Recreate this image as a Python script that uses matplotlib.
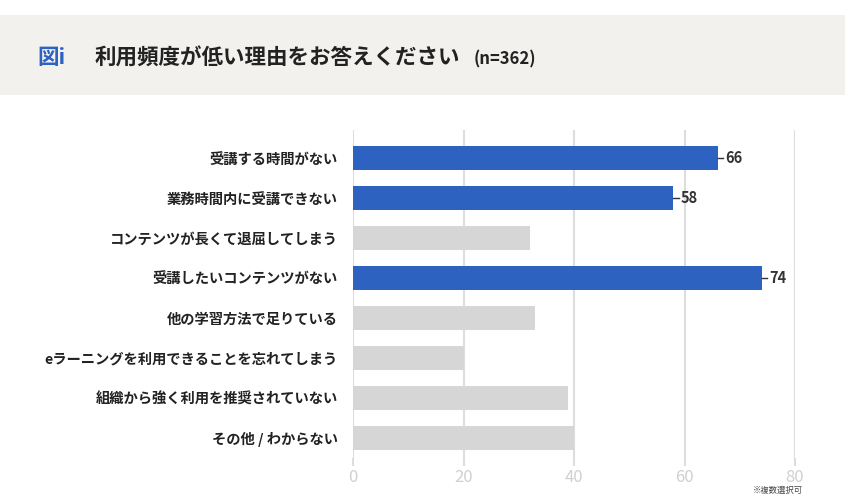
import matplotlib.pyplot as plt
from matplotlib.patches import Rectangle

plt.rcParams['font.family'] = ['Noto Sans CJK JP', 'DejaVu Sans']

labels = ['受講する時間がない', '業務時間内に受講できない', 'コンテンツが長くて退屈してしまう',
          '受講したいコンテンツがない', '他の学習方法で足りている',
          'eラーニングを利用できることを忘れてしまう', '組織から強く利用を推奨されていない',
          'その他 / わからない']
values = [66, 58, 32, 74, 33, 20, 39, 40]
highlight = [True, True, False, True, False, False, False, False]
xticks = [0, 20, 40, 60, 80]

blue = '#2d62c0'
gray = '#d6d6d6'

fig = plt.figure(figsize=(8.57, 4.99), dpi=100)

# header band
fig.patches.append(Rectangle((0, 1 - 95 / 499), 845 / 857, 80 / 499,
                             transform=fig.transFigure, facecolor='#f2f1ee',
                             edgecolor='none', zorder=0))
fig.text(37 / 857, 1 - 58 / 499, '図i', color=blue, fontsize=15.5,
         fontweight='bold', va='center', ha='left')
fig.text(95 / 857, 1 - 58 / 499, '利用頻度が低い理由をお答えください', color='#222222',
         fontsize=15.5, fontweight='bold', va='center', ha='left')
fig.text(474 / 857, 1 - 59 / 499, '(n=362)', color='#222222',
         fontsize=12, fontweight='bold', va='center', ha='left')

ax = fig.add_axes([353 / 857, 1 - 458 / 499, 442 / 857, 328 / 499])
y = list(range(len(labels)))
colors = [blue if h else gray for h in highlight]
ax.barh(y, values, height=0.6, color=colors, zorder=2)

for yi, v, h in zip(y, values, highlight):
    if h:
        ax.plot([v, v + 1.0], [yi, yi], color='#333333', lw=1, zorder=3)
        ax.text(v + 1.3, yi, str(v), va='center', ha='left', fontsize=10.5,
                fontweight='bold', color='#333333')

ax.set_xlim(0, 80)
ax.set_ylim(len(labels) - 0.5, -0.7)
ax.set_xticks(xticks)
ax.set_xticklabels([str(t) for t in xticks], color='#d0d0d0', fontsize=12)
ax.set_yticks(y)
ax.set_yticklabels(labels, fontsize=10.3, fontweight='bold', color='#222222')
ax.tick_params(axis='y', length=0, pad=11)
ax.tick_params(axis='x', length=6, color='#dddddd', width=1.5, pad=2)
ax.grid(axis='x', color='#dddddd', lw=1.5, zorder=1)
for s in ax.spines.values():
    s.set_visible(False)

fig.text(803 / 857, 1 - 490 / 499, '※複数選択可', color='#444444', fontsize=6,
         ha='right', va='center')

fig.savefig('out.png', dpi=100)
